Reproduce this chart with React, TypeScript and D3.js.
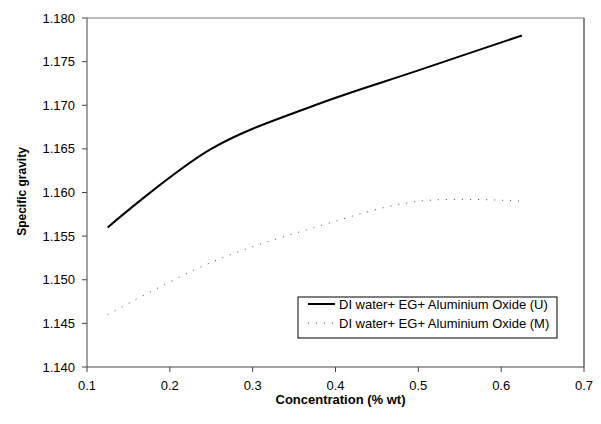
import React from 'react'
import { scaleLinear, line, curveCatmullRom } from 'd3'

const concentration = [0.125, 0.25, 0.375, 0.5, 0.625]
const gravityU = [1.156, 1.165, 1.170, 1.174, 1.178]
const gravityM = [1.146, 1.152, 1.156, 1.159, 1.159]
const xTicks = [0.1, 0.2, 0.3, 0.4, 0.5, 0.6, 0.7]
const yTicks = [1.14, 1.145, 1.15, 1.155, 1.16, 1.165, 1.17, 1.175, 1.18]
const legendLabels = ['DI water+ EG+ Aluminium Oxide (U)', 'DI water+ EG+ Aluminium Oxide (M)']

const width = 601
const height = 424
const left = 87
const right = 584
const top = 18
const bottom = 367
const font = 'Liberation Sans, Arial, sans-serif'

const App = () => {
  const x = scaleLinear().domain([0.1, 0.7]).range([left, right])
  const y = scaleLinear().domain([1.14, 1.18]).range([bottom, top])

  const path = line<number>()
    .x((_, i) => x(concentration[i]))
    .y(d => y(d))
    .curve(curveCatmullRom.alpha(0.5))

  return (
    <svg width={width} height={height} style={{ position: 'absolute', left: 0, top: 0 }}>
      <rect x={0} y={0} width={width} height={height} fill="#fff" />
      {/* plot area border */}
      <line x1={left} x2={right} y1={top} y2={top} stroke="#777" strokeWidth={1} />
      <line x1={right} x2={right} y1={top} y2={bottom} stroke="#888" strokeWidth={2} />

      {/* y axis */}
      <line x1={left} x2={left} y1={top} y2={bottom} stroke="#444" strokeWidth={1} />
      {yTicks.map(t => (
        <g key={t}>
          <line x1={left - 5} x2={left} y1={y(t)} y2={y(t)} stroke="#444" />
          <text x={left - 12} y={y(t)} dy="0.35em" textAnchor="end" fontFamily={font} fontSize={13} fill="#000">
            {t.toFixed(3)}
          </text>
        </g>
      ))}

      {/* x axis */}
      <line x1={left} x2={right} y1={bottom} y2={bottom} stroke="#444" strokeWidth={1} />
      {xTicks.map(t => (
        <g key={t}>
          <line x1={x(t)} x2={x(t)} y1={bottom} y2={bottom + 5} stroke="#444" />
          <text x={x(t)} y={bottom + 18.5} dy="0.35em" textAnchor="middle" fontFamily={font} fontSize={13} fill="#000">
            {t.toFixed(1)}
          </text>
        </g>
      ))}

      <text x={(left + right) / 2 + 5} y={399.5} dy="0.35em" textAnchor="middle" fontFamily={font} fontSize={13} fontWeight="bold">
        Concentration (% wt)
      </text>
      <text transform={`translate(22,${(top + bottom) / 2 - 1}) rotate(-90)`} dy="0.35em" textAnchor="middle" fontFamily={font} fontSize={12} fontWeight="bold">
        Specific gravity
      </text>

      {/* series */}
      <path d={path(gravityU) ?? ''} fill="none" stroke="#000" strokeWidth={2} />
      <path d={path(gravityM) ?? ''} fill="none" stroke="#444" strokeWidth={1} strokeDasharray="1 7" />

      {/* legend */}
      <rect x={298} y={297} width={259} height={41} fill="#fff" stroke="#000" strokeWidth={1} />
      <line x1={308} x2={335} y1={304} y2={304} stroke="#000" strokeWidth={2} />
      <line x1={308} x2={335} y1={323} y2={323} stroke="#444" strokeWidth={1} strokeDasharray="1 7" />
      {legendLabels.map((l, i) => (
        <text key={l} x={339} y={304 + i * 19} dy="0.35em" fontFamily={font} fontSize={13} fill="#000">
          {l}
        </text>
      ))}
    </svg>
  )
}

export default App
